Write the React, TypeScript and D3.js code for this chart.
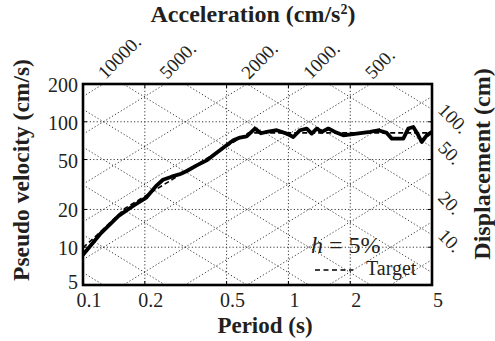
import React from 'react';
import * as d3 from 'd3';

// periods (s) and pseudo velocity (cm/s) of the simulated wave
const periodSim = [0.1, 0.121, 0.149, 0.176, 0.204, 0.228, 0.245, 0.27, 0.30, 0.32, 0.358, 0.40, 0.431, 0.50, 0.539, 0.581, 0.626, 0.687, 0.735, 0.784, 0.877, 0.981, 1.056, 1.138, 1.228, 1.298, 1.374, 1.452, 1.564, 1.686, 1.851, 2.149, 2.496, 2.739, 3.011, 3.186, 3.625, 3.834, 4.055, 4.29, 4.456, 4.713, 5.0];
const velSim = [8.7, 12.7, 17.8, 21.4, 25.0, 31.0, 34.5, 36.5, 38.5, 40.5, 44.9, 49.2, 54.0, 64.9, 71.2, 74.8, 76.5, 88.3, 81.0, 83.0, 85.6, 80.5, 75.6, 85.6, 88.3, 80.5, 88.3, 83.0, 88.3, 83.0, 78.0, 80.5, 83.0, 85.6, 81.5, 73.4, 73.4, 88.3, 90.9, 78.0, 69.0, 78.0, 83.0];

// target spectrum
const periodTarget = [0.1, 0.12, 0.14, 0.16, 0.64, 5];
const velTarget = [9.9, 13.0, 16.5, 20.4, 81.5, 81.5];

const xTicks = [0.1, 0.2, 0.5, 1, 2, 5];
const yTicks = [5, 10, 20, 50, 100, 200];
const accLines = [10, 20, 50, 100, 200, 500, 1000, 2000, 5000, 10000];
const dispLines = [0.1, 0.2, 0.5, 1, 2, 5, 10, 20, 50, 100];
const accLabels = [10000, 5000, 2000, 1000, 500];
const dispLabels = [100, 50, 20, 10];

const W = 495, H = 341;
const m = {left: 83, right: 432, top: 84, bottom: 285};
const serif = "'Liberation Serif', 'Times New Roman', Times, serif";
const txt = {fontFamily: serif, fill: '#231f20'};

export default function App() {
  const x = d3.scaleLog().domain([0.1, 5]).range([m.left, m.right]);
  const y = d3.scaleLog().domain([5, 200]).range([m.bottom, m.top]);
  const TWO_PI = 2 * Math.PI;

  const simData = periodSim.map((t, i) => [t, velSim[i]] as [number, number]);
  const tgtData = periodTarget.map((t, i) => [t, velTarget[i]] as [number, number]);
  const line = d3.line<[number, number]>().x(d => x(d[0])).y(d => y(d[1]));

  const dotted = {stroke: '#222', strokeWidth: 0.9, strokeDasharray: '1.2,2.2', fill: 'none'};

  return (
    <svg width={W} height={H} style={{position: 'absolute', left: 0, top: 0, background: '#fff'}}>
      <defs>
        <clipPath id="plotclip">
          <rect x={m.left} y={m.top} width={m.right - m.left} height={m.bottom - m.top} />
        </clipPath>
      </defs>

      {/* grid */}
      <g clipPath="url(#plotclip)">
        {xTicks.slice(1, -1).map(t => (
          <line key={'gx' + t} x1={x(t)} x2={x(t)} y1={m.top} y2={m.bottom} {...dotted} />
        ))}
        {yTicks.slice(1, -1).map(v => (
          <line key={'gy' + v} x1={m.left} x2={m.right} y1={y(v)} y2={y(v)} {...dotted} />
        ))}
        {accLines.map(a => (
          <line key={'a' + a} x1={x(0.1)} y1={y(a * 0.1 / TWO_PI)} x2={x(5)} y2={y(a * 5 / TWO_PI)} {...dotted} />
        ))}
        {dispLines.map(dd => (
          <line key={'d' + dd} x1={x(0.1)} y1={y(TWO_PI * dd / 0.1)} x2={x(5)} y2={y(TWO_PI * dd / 5)} {...dotted} />
        ))}
        <path d={line(tgtData) || ''} fill="none" stroke="#000" strokeWidth={1.6} strokeDasharray="5,3" />
        <path d={line(simData) || ''} fill="none" stroke="#000" strokeWidth={3.8} strokeLinejoin="round" strokeLinecap="round" />
      </g>

      {/* inward ticks */}
      {xTicks.slice(1, -1).map(t => (
        <g key={'tx' + t}>
          <line x1={x(t)} x2={x(t)} y1={m.bottom} y2={m.bottom - 4} stroke="#000" strokeWidth={1} />
          <line x1={x(t)} x2={x(t)} y1={m.top} y2={m.top + 4} stroke="#000" strokeWidth={1} />
        </g>
      ))}
      {yTicks.slice(1, -1).map(v => (
        <g key={'ty' + v}>
          <line x1={m.left} x2={m.left + 4} y1={y(v)} y2={y(v)} stroke="#000" strokeWidth={1} />
          <line x1={m.right} x2={m.right - 4} y1={y(v)} y2={y(v)} stroke="#000" strokeWidth={1} />
        </g>
      ))}

      <rect x={m.left} y={m.top} width={m.right - m.left} height={m.bottom - m.top} fill="none" stroke="#000" strokeWidth={2.6} />

      {/* tick labels */}
      {xTicks.map(t => (
        <text key={'lx' + t} x={x(t) + 6} y={307} textAnchor="middle" fontSize={20} style={txt}>{t}</text>
      ))}
      {yTicks.map(v => (
        <text key={'ly' + v} x={78} y={Math.min(y(v) + 8, 289)} textAnchor="end" fontSize={20} style={txt}>{v}</text>
      ))}

      {/* acceleration labels */}
      {accLabels.map(a => {
        const tx = x(TWO_PI * 200 / a) + 2;
        return (
          <text key={'al' + a} transform={`translate(${tx},80) rotate(-45)`} fontSize={19} style={txt}>{a + '.'}</text>
        );
      })}
      {/* displacement labels */}
      {dispLabels.map(dd => {
        const ty = y(TWO_PI * dd / 5) + 2;
        return (
          <text key={'dl' + dd} transform={`translate(${m.right + 5},${ty}) rotate(45)`} fontSize={19} style={txt}>{dd + '.'}</text>
        );
      })}

      {/* legend */}
      <text x={311} y={253} fontSize={24} style={txt}>
        <tspan fontStyle="italic">h</tspan>
        <tspan> = 5%</tspan>
      </text>
      <line x1={315} x2={353} y1={270} y2={270} stroke="#000" strokeWidth={1.6} strokeDasharray="5,3.5" />
      <text x={366} y={275} fontSize={20} style={txt}>Target</text>

      {/* axis titles */}
      <text x={253} y={22} textAnchor="middle" fontSize={24} fontWeight="bold" style={txt}>
        Acceleration (cm/s<tspan dy={-8} fontSize={14}>2</tspan><tspan dy={8}>)</tspan>
      </text>
      <text x={265} y={333} textAnchor="middle" fontSize={23} fontWeight="bold" style={txt}>Period (s)</text>
      <text transform="translate(29,170) rotate(-90)" textAnchor="middle" fontSize={23.5} fontWeight="bold" style={txt}>Pseudo velocity (cm/s)</text>
      <text transform="translate(490,164) rotate(-90)" textAnchor="middle" fontSize={24} fontWeight="bold" style={txt}>Displacement (cm)</text>
    </svg>
  );
}
